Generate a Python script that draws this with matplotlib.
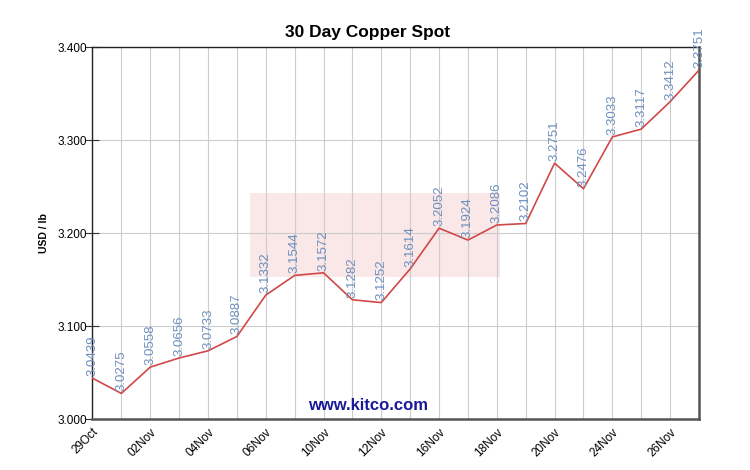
import matplotlib
matplotlib.use('Agg')
import matplotlib.pyplot as plt
import matplotlib.transforms as mtransforms
from matplotlib.patches import Rectangle

plt.rcParams['font.family'] = ['Liberation Sans', 'DejaVu Sans']

# daily copper spot, USD / lb
dates = ['29Oct', '30Oct', '02Nov', '03Nov', '04Nov', '05Nov', '06Nov', '09Nov',
         '10Nov', '11Nov', '12Nov', '13Nov', '16Nov', '17Nov', '18Nov', '19Nov',
         '20Nov', '23Nov', '24Nov', '25Nov', '26Nov', '27Nov']
prices = [3.0439, 3.0275, 3.0558, 3.0656, 3.0733, 3.0887, 3.1332, 3.1544,
          3.1572, 3.1282, 3.1252, 3.1614, 3.2052, 3.1924, 3.2086, 3.2102,
          3.2751, 3.2476, 3.3033, 3.3117, 3.3412, 3.3751]
y_ticks = [3.0, 3.1, 3.2, 3.3, 3.4]

x = list(range(len(prices)))

fig = plt.figure(figsize=(7.5, 4.7), dpi=100)
ax = fig.add_axes([0.1233, 0.1085, 0.8087, 0.7915])

# faint watermark box behind the line
ax.add_patch(Rectangle((250, 470 - 277), 250, 84, transform=None,
                       facecolor='#f8d8d8', alpha=0.6, edgecolor='none', zorder=0))

ax.plot(x, prices, color='#d04848', lw=1.2, zorder=3)

for xi, p in zip(x, prices):
    ax.annotate('%.4f' % p, (xi, p), xytext=(0, 1.5), textcoords='offset points',
                rotation=90, ha='center', va='bottom', fontsize=9.5,
                color='#6e8fbf', zorder=4, annotation_clip=False)

ax.set_xlim(0, len(prices) - 1)
ax.set_ylim(3.0, 3.4)
ax.set_xticks(x, minor=True)
ax.set_xticks(x[::2])
ax.set_xticklabels(dates[::2], rotation=45, ha='right', rotation_mode='anchor',
                   fontsize=8.5)
shift = mtransforms.ScaledTranslation(5 / 72, 0, fig.dpi_scale_trans)
for lbl in ax.get_xticklabels():
    lbl.set_transform(lbl.get_transform() + shift)
ax.set_yticks(y_ticks)
ax.set_yticklabels(['%.3f' % v for v in y_ticks], fontsize=8.5)

ax.grid(True, which='both', color='#cccccc', lw=0.8, zorder=1)
ax.set_axisbelow(True)
ax.tick_params(axis='y', direction='inout', length=10, color='#333333', pad=-1)
ax.tick_params(axis='x', which='both', length=0, pad=5)

for side in ['top', 'left']:
    ax.spines[side].set_color('#222222')
    ax.spines[side].set_linewidth(1.0)
for side in ['bottom', 'right']:
    ax.spines[side].set_color('#555555')
    ax.spines[side].set_linewidth(1.8)

fig.text(368 / 750, 1 - 33 / 470, '30 Day Copper Spot', ha='center', va='center',
         fontsize=12.5, fontweight='bold')
ax.set_ylabel('USD / lb', fontsize=7.5, fontweight='bold', labelpad=6)

fig.text(368 / 750, 1 - 406 / 470, 'www.kitco.com', ha='center', va='center',
         fontsize=12, fontweight='bold', color='#1a1a99')

plt.savefig('out.png', dpi=100)
